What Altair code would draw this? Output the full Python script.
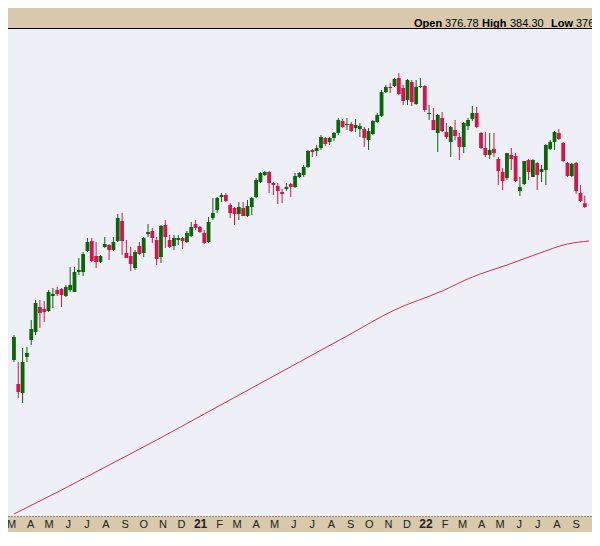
import altair as alt
import pandas as pd

# weekly OHLC (price units)
opens = [220, 196, 187, 223, 240, 248, 273, 271, 269, 284, 290, 291, 284, 290, 288, 308, 308, 329, 339, 324,
         318, 333, 335, 330, 339, 359, 327, 324, 312, 334, 327, 346, 349, 340, 323, 355, 340, 334, 340, 342,
         338, 344, 356, 353, 347, 338, 362, 370, 383, 385, 375, 372, 366, 372, 364, 373, 383, 398, 405, 408,
         397, 394, 388, 391, 396, 393, 403, 405, 413, 430, 429, 432, 442, 438, 442, 447, 459, 455, 456, 452,
         451, 451, 440, 446, 458, 464, 488, 493, 494, 502, 492, 480, 498, 476, 493, 494, 466, 460, 447, 462,
         448, 438, 450, 443, 433, 454, 461, 467, 447, 432, 425, 431, 421, 408, 402, 425, 424, 389, 396, 420,
         403, 417, 408, 410, 431, 438, 447, 437, 417, 404, 417, 387, 376.78]
highs = [245, 218, 232, 233, 260, 280, 280, 279, 290, 292, 293, 292, 295, 313, 313, 322, 328, 342, 342, 338,
         325, 343, 336, 343, 366, 367, 340, 333, 330, 338, 343, 356, 352, 343, 355, 360, 345, 345, 345, 343,
         349, 358, 360, 354, 350, 363, 382, 383, 387, 387, 377, 373, 378, 378, 380, 383, 402, 408, 409, 409,
         398, 397, 391, 397, 397, 407, 408, 415, 430, 431, 435, 445, 443, 443, 448, 462, 461, 462, 458, 461,
         457, 453, 452, 460, 467, 490, 495, 497, 502, 507, 495, 501, 500, 500, 502, 495, 475, 472, 466, 468,
         457, 454, 460, 447, 458, 462, 474, 473, 448, 448, 447, 447, 423, 412, 427, 432, 427, 403, 419, 421,
         421, 418, 415, 436, 440, 449, 451, 438, 418, 417, 418, 395, 384.30]
lows = [218, 182, 177, 218, 235, 245, 252, 258, 268, 272, 284, 273, 283, 288, 288, 305, 304, 328, 318, 312,
        317, 332, 320, 329, 338, 325, 322, 309, 310, 325, 323, 343, 337, 315, 317, 332, 332, 330, 335, 331,
        337, 343, 350, 347, 336, 337, 360, 367, 378, 378, 362, 355, 360, 364, 363, 365, 382, 397, 404, 387,
        385, 376, 377, 389, 383, 392, 402, 403, 412, 423, 424, 430, 434, 435, 439, 445, 452, 450, 448, 448,
        443, 433, 430, 445, 457, 463, 487, 487, 493, 485, 475, 475, 474, 475, 492, 468, 460, 450, 428, 448,
        441, 423, 440, 420, 427, 450, 459, 452, 431, 423, 421, 423, 395, 390, 400, 410, 398, 384, 395, 400,
        403, 390, 398, 395, 430, 430, 440, 418, 403, 403, 386, 378, 372]
closes = [243, 188, 218, 227, 251, 277, 267, 268, 288, 286, 286, 285, 293, 295, 308, 310, 326, 338, 319, 318,
          324, 336, 330, 338, 362, 339, 322, 316, 328, 326, 342, 348, 342, 321, 354, 343, 333, 342, 342, 339,
          347, 353, 352, 348, 337, 358, 367, 382, 385, 379, 367, 366, 373, 364, 374, 382, 400, 407, 408, 397,
          395, 389, 386, 393, 393, 404, 407, 413, 429, 428, 432, 443, 436, 442, 447, 460, 453, 456, 449, 455,
          454, 442, 449, 459, 465, 488, 493, 492, 501, 486, 479, 500, 478, 493, 494, 470, 467, 450, 465, 449,
          443, 453, 444, 433, 457, 460, 467, 453, 432, 425, 430, 427, 409, 399, 427, 421, 399, 393, 419, 408,
          420, 405, 411, 435, 438, 448, 441, 419, 404, 416, 389, 379, 373]
weeks = pd.date_range("2020-03-09", periods=len(opens), freq="7D").strftime("%Y-%m-%d").tolist()

# moving-average line
ma_dates = ["2020-03-09", "2020-05-25", "2020-08-10", "2020-10-26", "2021-01-11", "2021-03-29",
            "2021-06-14", "2021-08-30", "2021-11-15", "2022-01-31", "2022-03-21", "2022-05-16",
            "2022-07-04", "2022-08-22", "2022-09-26"]
ma_vals = [66, 90, 115, 140, 166, 192, 218, 244, 270, 289, 303, 315, 326, 336, 339]

header_words = ["Open", "376.78", "High", "384.30", "Low", "376.04"]
header_bold = [True, False, True, False, True, False]

GREEN = "#0b650b"
RED = "#d3164a"
MA_COLOR = "#cc3050"
TAN = "#D8C8AC"
PLOT_BG = "#EFEFF7"
FONT = "Arial, Liberation Sans, sans-serif"

W, H = 584, 487

df = pd.DataFrame({"date": weeks, "open": opens, "high": highs, "low": lows, "close": closes})
ma_df = pd.DataFrame({"date": ma_dates, "ma": ma_vals})

x_scale = alt.Scale(
    type="utc",
    domain=[alt.DateTime(year=2020, month=3, date=7, hours=11, utc=True),
            alt.DateTime(year=2022, month=9, date=22, hours=14, utc=True)],
)
y_scale = alt.Scale(domain=[64, 551], nice=False, zero=False)

is_jan = "utcmonth(datum.value) == 0"
x_axis = alt.Axis(
    title=None, grid=False, ticks=False,
    domain=True, domainColor="#555555", domainDash=[1, 2], domainWidth=1,
    tickCount={"interval": "month", "step": 1},
    labelExpr="utcmonth(datum.value) == 0 ? utcFormat(datum.value, '%y') : substring(utcFormat(datum.value, '%b'), 0, 1)",
    labelFontWeight={"condition": {"test": is_jan, "value": "bold"}, "value": "normal"},
    labelFontSize={"condition": {"test": is_jan, "value": 12}, "value": 11},
    labelFont=FONT, labelColor="#222222", labelPadding=2, labelOffset=2,
    labelOverlap=False, labelFlush=False, labelBound=False,
)

color = alt.condition("datum.close >= datum.open", alt.value(GREEN), alt.value(RED))

base = alt.Chart(df)
wicks = base.mark_rule(strokeWidth=1, clip=True).encode(
    x=alt.X("date:T", scale=x_scale, axis=x_axis),
    y=alt.Y("low:Q", scale=y_scale, axis=None),
    y2="high:Q",
    color=color,
)
bodies = base.mark_bar(width=3.8, clip=True).encode(
    x=alt.X("date:T", scale=x_scale, axis=x_axis),
    y=alt.Y("open:Q", scale=y_scale, axis=None),
    y2="close:Q",
    color=color,
)
ma_line = alt.Chart(ma_df).mark_line(color=MA_COLOR, strokeWidth=1, clip=True, interpolate="monotone").encode(
    x=alt.X("date:T", scale=x_scale, axis=x_axis),
    y=alt.Y("ma:Q", scale=y_scale, axis=None),
)

top_rule = alt.Chart(pd.DataFrame({"v": [0]})).mark_rule(color="black", strokeWidth=1).encode(
    x=alt.value(0), x2=alt.value(W), y=alt.value(-0.5)
)

header_x = [406, 437, 474, 502, 543, 568]
header_layers = []
for word, bold, hx in zip(header_words, header_bold, header_x):
    header_layers.append(
        alt.Chart(pd.DataFrame({"t": [word]})).mark_text(
            align="left", baseline="alphabetic", font=FONT, fontSize=11,
            fontWeight="bold" if bold else "normal", color="#000000",
        ).encode(text="t:N", x=alt.value(hx), y=alt.value(-2.5))
    )

chart = alt.layer(ma_line, wicks, bodies, top_rule, *header_layers).properties(
    width=W, height=H,
    autosize=alt.AutoSizeParams(type="none"),
    padding={"left": 0, "top": 21, "right": 0, "bottom": 16},
    background=TAN,
).configure_view(fill=PLOT_BG, strokeWidth=0)

chart.save("out.html", embed_options={"renderer": "svg", "actions": False})
